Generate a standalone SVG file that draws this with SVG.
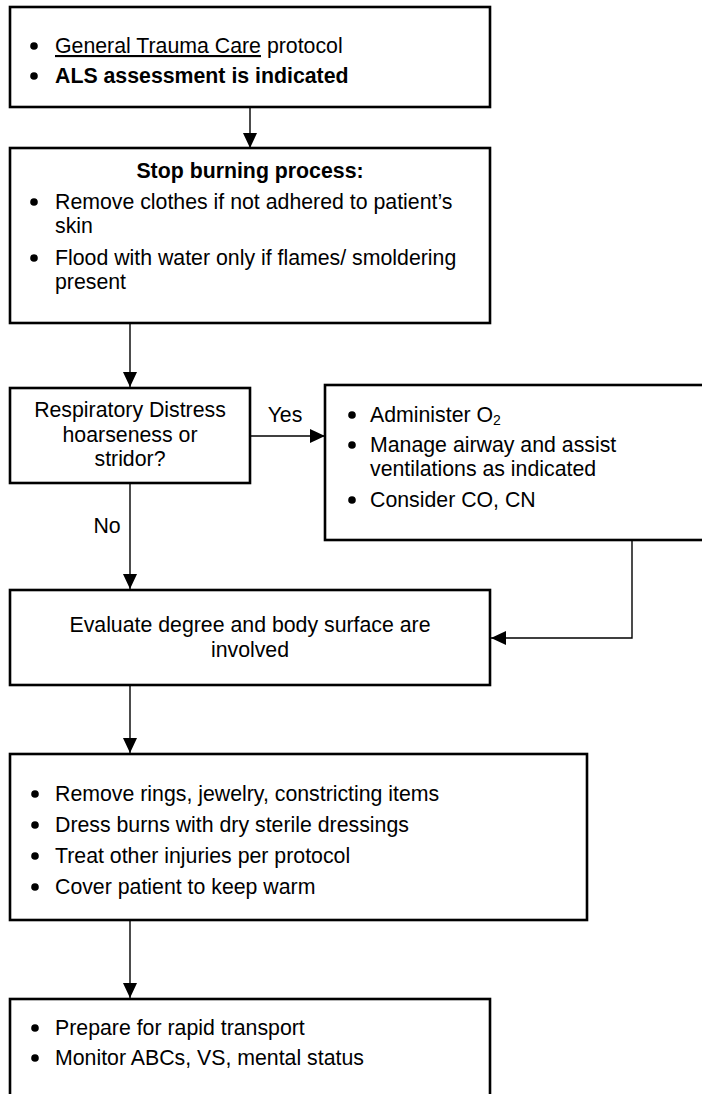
<svg xmlns="http://www.w3.org/2000/svg" width="702" height="1094" viewBox="0 0 702 1094">
  <style>
    .box { fill: #ffffff; stroke: #000000; stroke-width: 2.6; }
    .t { font-family: "Liberation Sans", Arial, sans-serif; font-size: 21.3px; fill: #000000; }
    .b { font-weight: bold; }
    .c { text-anchor: middle; }
    .dot { fill: #000000; }
    .wire { fill: none; stroke: #000000; stroke-width: 1.4; }
  </style>
  <defs>
    <marker id="arrow" markerUnits="userSpaceOnUse" markerWidth="15" markerHeight="14" refX="15" refY="7" orient="auto">
      <path d="M0,0 L15,7 L0,14 z" fill="#000000"/>
    </marker>
  </defs>
  <rect width="702" height="1094" fill="#ffffff"/>

  <!-- connectors -->
  <g id="connectors">
    <path class="wire" d="M250,108 V148" marker-end="url(#arrow)"/>
    <path class="wire" d="M130,324 V387" marker-end="url(#arrow)"/>
    <path class="wire" d="M251,436 H325" marker-end="url(#arrow)"/>
    <path class="wire" d="M130,484 V589" marker-end="url(#arrow)"/>
    <path class="wire" d="M632,541 V638 H491" marker-end="url(#arrow)"/>
    <path class="wire" d="M130,686 V753" marker-end="url(#arrow)"/>
    <path class="wire" d="M130,921 V998" marker-end="url(#arrow)"/>
    <text class="t c" x="285" y="422">Yes</text>
    <text class="t c" x="107" y="533">No</text>
  </g>

  <!-- start: trauma protocol -->
  <g id="node-start">
    <rect class="box" x="10" y="7" width="480" height="100"/>
    <circle class="dot" cx="34" cy="46" r="3.8"/>
    <text class="t" x="55" y="53"><tspan text-decoration="underline">General Trauma Care</tspan> protocol</text>
    <circle class="dot" cx="34" cy="76" r="3.8"/>
    <text class="t b" x="55" y="83">ALS assessment is indicated</text>
  </g>

  <!-- stop burning -->
  <g id="node-stop-burning">
    <rect class="box" x="10" y="148" width="480" height="175"/>
    <text class="t b c" x="250" y="178">Stop burning process:</text>
    <circle class="dot" cx="34" cy="202" r="3.8"/>
    <text class="t" x="55" y="209">Remove clothes if not adhered to patient’s</text>
    <text class="t" x="55" y="233">skin</text>
    <circle class="dot" cx="34" cy="258" r="3.8"/>
    <text class="t" x="55" y="265">Flood with water only if flames/ smoldering</text>
    <text class="t" x="55" y="289">present</text>
  </g>

  <!-- decision -->
  <g id="node-respiratory">
    <rect class="box" x="10" y="388" width="240" height="95"/>
    <text class="t c" x="130" y="417">Respiratory Distress</text>
    <text class="t c" x="130" y="442">hoarseness or</text>
    <text class="t c" x="130" y="466">stridor?</text>
  </g>

  <!-- airway management -->
  <g id="node-airway">
    <rect class="box" x="325" y="385" width="390" height="155"/>
    <circle class="dot" cx="352" cy="415" r="3.8"/>
    <text class="t" x="370" y="422">Administer O<tspan font-size="14" dy="3">2</tspan></text>
    <circle class="dot" cx="352" cy="445" r="3.8"/>
    <text class="t" x="370" y="452">Manage airway and assist</text>
    <text class="t" x="370" y="476">ventilations as indicated</text>
    <circle class="dot" cx="352" cy="500" r="3.8"/>
    <text class="t" x="370" y="507">Consider CO, CN</text>
  </g>

  <!-- evaluate -->
  <g id="node-evaluate">
    <rect class="box" x="10" y="590" width="480" height="95"/>
    <text class="t c" x="250" y="632">Evaluate degree and body surface are</text>
    <text class="t c" x="250" y="657">involved</text>
  </g>

  <!-- wound care -->
  <g id="node-care">
    <rect class="box" x="10" y="754" width="577" height="166"/>
    <circle class="dot" cx="35" cy="794" r="3.8"/>
    <text class="t" x="55" y="801">Remove rings, jewelry, constricting items</text>
    <circle class="dot" cx="35" cy="825" r="3.8"/>
    <text class="t" x="55" y="832">Dress burns with dry sterile dressings</text>
    <circle class="dot" cx="35" cy="856" r="3.8"/>
    <text class="t" x="55" y="863">Treat other injuries per protocol</text>
    <circle class="dot" cx="35" cy="887" r="3.8"/>
    <text class="t" x="55" y="894">Cover patient to keep warm</text>
  </g>

  <!-- transport -->
  <g id="node-transport">
    <rect class="box" x="10" y="999" width="480" height="110"/>
    <circle class="dot" cx="35" cy="1028" r="3.8"/>
    <text class="t" x="55" y="1035">Prepare for rapid transport</text>
    <circle class="dot" cx="35" cy="1058" r="3.8"/>
    <text class="t" x="55" y="1065">Monitor ABCs, VS, mental status</text>
  </g>
</svg>
